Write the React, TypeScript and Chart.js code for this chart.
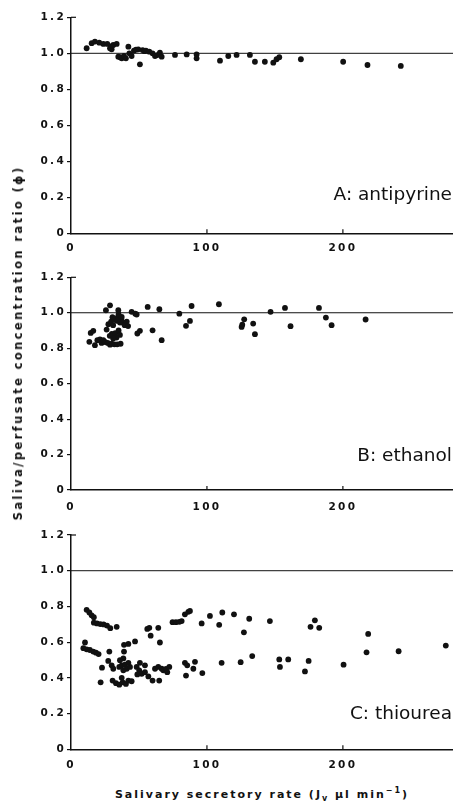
import { useEffect, useRef } from 'react';
import { Chart, registerables } from 'chart.js';

Chart.register(...registerables);

const INK = '#111111';
const X_MAX = 281;
const X_TICK_STEP = 100;
const Y_MIN = 0;
const Y_MAX = 1.2;
const Y_TICK_STEP = 0.2;
const REF_LINE = 1.0;

// Panel A: antipyrine
const antipyrineX = [11.5, 15.2, 17.6, 20.8, 23.8, 26.7, 28.7, 29.9, 30.0, 31.1, 33.6, 34.8, 36.1, 37.3, 39.0, 40.4, 42.2, 42.9, 44.6, 46.3, 47.8, 49.5, 50.7, 52.7, 54.0, 55.1, 57.6, 60.0, 61.8, 63.5, 65.4, 66.7, 76.5, 85.1, 92.4, 92.4, 109.6, 115.7, 121.8, 131.6, 135.3, 142.6, 148.8, 151.2, 153.2, 169.1, 200.2, 218.1, 242.6];
const antipyrineY = [1.028, 1.056, 1.065, 1.059, 1.052, 1.052, 1.028, 1.022, 1.040, 1.046, 1.052, 0.981, 0.978, 0.972, 0.985, 0.972, 1.037, 1.0, 0.985, 1.015, 1.020, 1.022, 0.939, 1.018, 1.012, 1.015, 1.009, 1.0, 0.985, 0.990, 1.004, 0.981, 0.991, 0.994, 0.994, 0.972, 0.959, 0.985, 0.991, 0.991, 0.953, 0.953, 0.948, 0.967, 0.978, 0.967, 0.953, 0.935, 0.930];

// Panel B: ethanol
const ethanolX = [13.5, 14.5, 16.4, 17.6, 19.4, 21.3, 22.5, 23.8, 25.7, 26.2, 28.7, 28.7, 25.0, 27.0, 30.0, 32.0, 34.0, 36.5, 27.5, 29.5, 31.0, 32.0, 33.5, 34.5, 36.0, 37.0, 38.0, 39.5, 41.0, 42.0, 30.5, 35.0, 30.0, 32.5, 35.0, 36.0, 33.5, 31.0, 28.5, 34.8, 37.3, 44.6, 47.3, 48.3, 48.8, 50.7, 56.4, 60.0, 65.0, 66.7, 79.7, 84.6, 87.5, 88.7, 108.8, 125.5, 126.0, 127.4, 134.0, 135.3, 146.8, 157.4, 161.5, 182.4, 187.5, 191.7, 216.7];
const ethanolY = [0.836, 0.886, 0.898, 0.817, 0.845, 0.850, 0.830, 0.845, 1.014, 0.905, 1.042, 0.820, 0.835, 0.830, 0.825, 0.822, 0.822, 0.825, 0.935, 0.950, 0.930, 0.965, 0.955, 0.975, 0.945, 0.965, 0.945, 0.930, 0.950, 0.925, 0.975, 0.990, 0.880, 0.885, 0.900, 0.875, 0.860, 0.855, 0.870, 1.014, 0.976, 1.005, 0.995, 0.990, 0.883, 0.898, 1.033, 0.901, 1.020, 0.845, 0.995, 0.926, 0.954, 1.038, 1.048, 0.920, 0.933, 0.963, 0.939, 0.879, 1.005, 1.027, 0.924, 1.027, 0.973, 0.930, 0.962];

// Panel C: thiourea
const thioureaX = [11.5, 13.5, 15.2, 16.8, 16.8, 19.1, 21.6, 24.0, 26.5, 28.9, 33.6, 56.1, 57.6, 58.6, 64.2, 65.4, 74.7, 77.2, 79.7, 81.4, 83.8, 86.3, 87.5, 96.1, 102.2, 109.0, 111.3, 119.9, 127.2, 131.1, 146.3, 176.2, 179.4, 182.6, 218.6, 275.7,
  10.3, 9.1, 11.5, 13.9, 16.4, 18.4, 20.3, 28.2, 22.8, 21.8, 27.4, 29.9, 31.1,
  30.6, 33.1, 35.5, 38.0, 40.4, 42.2, 44.6, 37.3,
  39.0, 42.2, 47.1, 39.0, 38.5, 36.0, 37.3, 39.7, 41.0, 43.4, 35.5, 38.5, 42.2, 50.7, 48.3, 50.2, 52.0, 54.4, 48.8, 56.9, 54.4, 60.0, 64.9, 61.8, 64.2, 66.7, 67.9, 69.9, 72.3, 70.8, 83.8, 85.5, 90.0, 91.2, 84.6, 96.6,
  110.8, 124.8, 133.3, 153.2, 153.7, 159.8, 174.8, 172.1, 200.5, 217.4, 241.0];
const thioureaY = [0.781, 0.766, 0.750, 0.740, 0.709, 0.705, 0.701, 0.699, 0.693, 0.678, 0.686, 0.674, 0.680, 0.636, 0.680, 0.598, 0.712, 0.712, 0.714, 0.718, 0.756, 0.770, 0.775, 0.705, 0.747, 0.697, 0.766, 0.756, 0.655, 0.731, 0.718, 0.686, 0.722, 0.680, 0.646, 0.581,
  0.598, 0.566, 0.560, 0.556, 0.547, 0.541, 0.533, 0.547, 0.457, 0.375, 0.495, 0.470, 0.451,
  0.385, 0.370, 0.362, 0.375, 0.366, 0.385, 0.381, 0.400,
  0.585, 0.590, 0.604, 0.547, 0.509, 0.499, 0.470, 0.474, 0.451, 0.461, 0.461, 0.442, 0.484, 0.484, 0.461, 0.442, 0.423, 0.432, 0.419, 0.408, 0.470, 0.385, 0.385, 0.451, 0.461, 0.451, 0.442, 0.450, 0.461, 0.432, 0.484, 0.470, 0.451, 0.490, 0.413, 0.427,
  0.484, 0.488, 0.522, 0.503, 0.461, 0.503, 0.495, 0.436, 0.474, 0.543, 0.549];

const TICK_FONT = { family: '"DejaVu Sans", Arial, sans-serif', size: 10.5, weight: 'bold' as const };

const spacingPlugin = {
  id: 'letterSpacing',
  beforeUpdate(chart: any) { chart.ctx.letterSpacing = '2.3px'; },
  beforeDraw(chart: any) { chart.ctx.letterSpacing = '2.3px'; },
};

const decoPlugin = {
  id: 'deco',
  afterDraw(chart: any, _args: any, opts: any) {
    const { ctx, chartArea, scales } = chart;
    ctx.save();
    ctx.strokeStyle = INK;
    ctx.lineWidth = 1.2;
    scales.x.ticks.forEach((t: any) => {
      if (t.value === 0) return;
      const px = scales.x.getPixelForValue(t.value);
      ctx.beginPath();
      ctx.moveTo(px, chartArea.bottom);
      ctx.lineTo(px, chartArea.bottom - 4);
      ctx.stroke();
    });
    const py = scales.y.getPixelForValue(Y_MAX);
    ctx.beginPath();
    ctx.moveTo(chartArea.left, py);
    ctx.lineTo(chartArea.left + 5, py);
    ctx.stroke();
    ctx.letterSpacing = '0px';
    ctx.font = '18.5px "DejaVu Sans", Arial, sans-serif';
    ctx.fillStyle = INK;
    ctx.textAlign = 'right';
    ctx.textBaseline = 'alphabetic';
    ctx.fillText(opts.label, chart.width - 1, opts.baseline);
    ctx.restore();
  },
};

type PanelProps = {
  xs: number[]; ys: number[]; top: number; height: number;
  plotTop: number; plotBottom: number; label: string; labelBaseline: number; tickPad: number;
};

function Panel({ xs, ys, top, height, plotTop, plotBottom, label, labelBaseline, tickPad }: PanelProps) {
  const ref = useRef<HTMLCanvasElement | null>(null);
  useEffect(() => {
    if (!ref.current) return;
    const pts = xs.map((x, i) => ({ x, y: ys[i] }));
    const chart = new Chart(ref.current, {
      type: 'scatter',
      data: {
        datasets: [
          {
            data: [{ x: 0, y: REF_LINE }, { x: X_MAX, y: REF_LINE }],
            showLine: true,
            borderColor: INK,
            borderWidth: 1,
            pointRadius: 0,
            order: 2,
          } as any,
          {
            data: pts,
            backgroundColor: INK,
            borderColor: INK,
            borderWidth: 0,
            pointRadius: 2.9,
            order: 1,
          },
        ],
      },
      options: {
        responsive: false,
        animation: false,
        layout: { autoPadding: false, padding: { top: plotTop, left: 0, right: 0, bottom: 0 } },
        plugins: {
          legend: { display: false },
          tooltip: { enabled: false },
          deco: { label, baseline: labelBaseline },
        } as any,
        scales: {
          x: {
            type: 'linear',
            min: 0,
            max: X_MAX,
            ticks: { stepSize: X_TICK_STEP, includeBounds: false, font: TICK_FONT, color: INK, padding: tickPad, maxRotation: 0 },
            grid: { display: true, drawOnChartArea: false, drawTicks: false },
            border: { color: INK, width: 1.5 },
            afterFit: (s: any) => { s.height = height - plotBottom; },
          },
          y: {
            min: Y_MIN,
            max: Y_MAX,
            ticks: {
              stepSize: Y_TICK_STEP,
              font: TICK_FONT,
              color: INK,
              padding: 1,
              callback: (v: any) => (Math.abs(v) < 1e-9 ? '0' : Number(v).toFixed(1)),
            },
            grid: { drawOnChartArea: false, tickLength: 4, color: INK, lineWidth: 1.2 },
            border: { color: INK, width: 1.5 },
            afterFit: (s: any) => { s.width = 71; },
          },
        },
      } as any,
      plugins: [spacingPlugin, decoPlugin],
    });
    return () => chart.destroy();
  }, []);
  return (
    <canvas
      ref={ref}
      width={453}
      height={height}
      style={{ position: 'absolute', left: 0, top, width: 453, height }}
    />
  );
}

const titleStyle: any = {
  position: 'absolute',
  fontFamily: '"DejaVu Sans", Arial, sans-serif',
  fontWeight: 'bold',
  fontSize: 11,
  color: INK,
  whiteSpace: 'nowrap',
  lineHeight: '12px',
};

export default function App() {
  return (
    <div style={{ position: 'absolute', left: 0, top: 0, width: 453, height: 802, background: '#fff', overflow: 'hidden' }}>
      <Panel xs={antipyrineX} ys={antipyrineY} top={0} height={260} plotTop={17.3} plotBottom={233.3} label="A: antipyrine" labelBaseline={199.5} tickPad={8.7} />
      <Panel xs={ethanolX} ys={ethanolY} top={260} height={262} plotTop={17.3} plotBottom={230} label="B: ethanol" labelBaseline={201} tickPad={10.7} />
      <Panel xs={thioureaX} ys={thioureaY} top={522} height={260} plotTop={13} plotBottom={227.3} label="C: thiourea" labelBaseline={197} tickPad={9.7} />
      <div style={{ ...titleStyle, fontSize: 11.5, left: 18, top: 343, transform: 'translate(-50%, -50%) rotate(-90deg)', letterSpacing: '2.4px' }}>
        Saliva/perfusate concentration ratio (ϕ)
      </div>
      <div style={{ ...titleStyle, left: 262, top: 795, transform: 'translate(-50%, -50%)', letterSpacing: '2px' }}>
        Salivary secretory rate (J<sub style={{ fontSize: 8, verticalAlign: '-3px', lineHeight: 0 }}>v</sub> µl min<sup style={{ fontSize: 8, verticalAlign: '5px', lineHeight: 0 }}>−1</sup>)
      </div>
    </div>
  );
}
